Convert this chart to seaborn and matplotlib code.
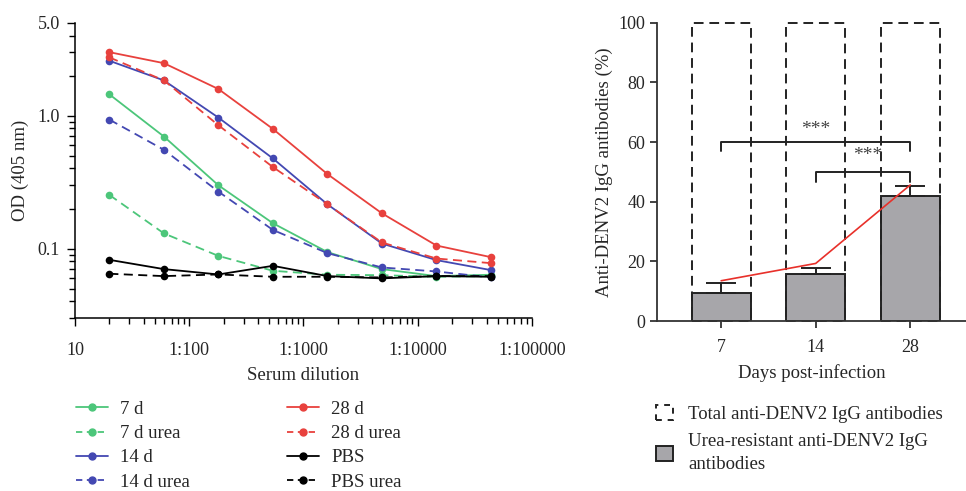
import numpy as np
import pandas as pd
import matplotlib
matplotlib.use("Agg")
import matplotlib.pyplot as plt
import matplotlib.ticker as mticker
from matplotlib.lines import Line2D
from matplotlib.patches import Patch
import seaborn as sns

# ---------------------------------------------------------------------------
# Data
# ---------------------------------------------------------------------------
dilution = [20, 60, 180, 540, 1620, 4860, 14580, 43740]

od_7d = [1.445, 0.696, 0.299, 0.155, 0.094, 0.070, 0.062, 0.0635]
od_7d_urea = [0.253, 0.130, 0.088, 0.068, 0.0635, 0.063, 0.0613, 0.062]
od_14d = [2.585, 1.84, 0.966, 0.476, 0.215, 0.109, 0.0818, 0.0688]
od_14d_urea = [0.933, 0.553, 0.268, 0.138, 0.0923, 0.072, 0.0672, 0.0606]
od_28d = [3.00, 2.48, 1.585, 0.794, 0.363, 0.184, 0.1053, 0.0861]
od_28d_urea = [2.74, 1.84, 0.846, 0.41, 0.215, 0.111, 0.0841, 0.0776]
od_pbs = [0.0822, 0.070, 0.0638, 0.0741, 0.062, 0.0596, 0.062, 0.0613]
od_pbs_urea = [0.0646, 0.062, 0.0638, 0.0613, 0.0613, 0.0606, 0.062, 0.062]

days = ["7", "14", "28"]
total_pct = [100, 100, 100]
urea_pct = [9.3, 15.8, 41.8]
urea_err = [3.6, 2.1, 3.4]
trend_pct = [13.5, 19.3, 45.6]

GREEN = "#4CC67A"
BLUE = "#4348B2"
RED = "#E8413D"
BLACK = "#000000"

series = [
    ("7 d", od_7d, GREEN, "-"),
    ("7 d urea", od_7d_urea, GREEN, "--"),
    ("14 d", od_14d, BLUE, "-"),
    ("14 d urea", od_14d_urea, BLUE, "--"),
    ("28 d", od_28d, RED, "-"),
    ("28 d urea", od_28d_urea, RED, "--"),
    ("PBS", od_pbs, BLACK, "-"),
    ("PBS urea", od_pbs_urea, BLACK, "--"),
]

FS = 13.5   # labels / legend
TFS = 13    # tick labels

sns.set_theme(style="ticks")
plt.rcParams["font.family"] = ["Liberation Serif", "DejaVu Serif"]
plt.rcParams["font.size"] = FS

fig = plt.figure(figsize=(9.66, 4.91), dpi=100)
ax1 = fig.add_axes([0.0776, 0.3523, 0.4731, 0.6015])
ax2 = fig.add_axes([0.680, 0.3462, 0.320, 0.6076])

# ---------------------------------------------------------------------------
# Left: OD titration curves
# ---------------------------------------------------------------------------
handles = []
for label, vals, color, ls in series:
    df = pd.DataFrame({"dilution": dilution, "od": vals})
    sns.lineplot(data=df, x="dilution", y="od", ax=ax1, color=color,
                 linewidth=1.3, marker="o", markersize=5.5,
                 markeredgewidth=0, clip_on=False)
    ax1.lines[-1].set_linestyle((0, (5, 3)) if ls == "--" else "-")
    handles.append(Line2D([], [], color=color, linewidth=1.3,
                          linestyle=(0, (3.5, 2.5)) if ls == "--" else "-",
                          marker="o", markersize=5, label=label))

ax1.set_xscale("log")
ax1.set_yscale("log")
ax1.set_xlim(10, 100000)
ax1.set_ylim(0.03, 5.0)
ax1.set_xticks([10, 100, 1000, 10000, 100000])
ax1.set_xticklabels(["10", "1:100", "1:1000", "1:10000", "1:100000"])
ax1.xaxis.set_minor_locator(mticker.LogLocator(base=10, subs=np.arange(2, 10)))
ax1.xaxis.set_minor_formatter(mticker.NullFormatter())
ax1.set_yticks([0.1, 1.0, 5.0])
ax1.set_yticklabels(["0.1", "1.0", "5.0"])
ax1.yaxis.set_minor_locator(mticker.LogLocator(base=10, subs=np.arange(2, 10)))
ax1.yaxis.set_minor_formatter(mticker.NullFormatter())
ax1.set_xlabel("Serum dilution", fontsize=FS, labelpad=6)
ax1.set_ylabel("OD (405 nm)", fontsize=FS, labelpad=6)
ax1.tick_params(which="major", length=6, width=1, color="black", labelsize=TFS)
ax1.tick_params(axis="x", which="major", pad=11)
ax1.tick_params(axis="y", which="major", pad=5)
ax1.tick_params(which="minor", length=4, width=1, color="black")
for s in ["left", "bottom"]:
    ax1.spines[s].set_linewidth(1.1)
    ax1.spines[s].set_color("black")
sns.despine(ax=ax1)

fig.legend(handles=handles, loc="upper left", bbox_to_anchor=(0.061, 0.218),
           ncol=2, frameon=False, fontsize=FS, handlelength=1.7,
           handletextpad=0.65, columnspacing=5.2, labelspacing=0.38)

# ---------------------------------------------------------------------------
# Right: avidity bars
# ---------------------------------------------------------------------------
sns.barplot(x=days, y=urea_pct, ax=ax2, color="#A7A6AA", width=0.625,
            edgecolor="#222222", linewidth=1.4, saturation=1)
n_gray = len(ax2.patches)
sns.barplot(x=days, y=total_pct, ax=ax2, color="white", width=0.625,
            saturation=1)
for p in ax2.patches[n_gray:]:
    p.set_facecolor("none")
    p.set_edgecolor("#222222")
    p.set_linewidth(1.4)
    p.set_linestyle((0, (5, 3)))
    p.set_clip_on(False)

xpos = np.arange(len(days))
ax2.errorbar(xpos, urea_pct, yerr=[[0] * 3, urea_err], fmt="none",
             ecolor="#222222", elinewidth=1.4, capsize=11, capthick=1.4)
ax2.plot(xpos, trend_pct, color="#E8302A", linewidth=1.2)

# significance brackets
ax2.plot([0, 0, 2, 2], [57, 60, 60, 57], color="#222222", linewidth=1.4)
ax2.text(1, 61.5, "***", ha="center", va="bottom", fontsize=14, color="#444444")
ax2.plot([1, 1, 2, 2], [46.5, 50, 50, 46.5], color="#222222", linewidth=1.4)
ax2.text(1.55, 52.5, "***", ha="center", va="bottom", fontsize=14,
         color="#444444")

ax2.set_xlim(-0.68, 2.59)
ax2.set_ylim(0, 100)
ax2.set_yticks([0, 20, 40, 60, 80, 100])
ax2.set_xlabel("Days post-infection", fontsize=FS, labelpad=6)
ax2.set_ylabel("Anti-DENV2 IgG antibodies (%)", fontsize=FS, labelpad=4)
ax2.tick_params(length=5, width=1.3, color="#333333", labelsize=TFS)
ax2.tick_params(axis="x", pad=8)
for s in ["left", "bottom"]:
    ax2.spines[s].set_linewidth(1.3)
    ax2.spines[s].set_color("#333333")
sns.despine(ax=ax2)

bar_handles = [
    Patch(facecolor="none", edgecolor="#222222", linestyle=(0, (3, 3)),
          linewidth=1.4, label="Total anti-DENV2 IgG antibodies"),
    Patch(facecolor="#A7A6AA", edgecolor="#222222", linewidth=1.4,
          label="Urea-resistant anti-DENV2 IgG\nantibodies"),
]
leg2 = fig.legend(handles=bar_handles, loc="upper left",
                  bbox_to_anchor=(0.662, 0.21), frameon=False, fontsize=FS,
                  handlelength=0.9, handleheight=0.9, handletextpad=0.8,
                  labelspacing=0.55)
for t in leg2.get_texts():
    t.set_linespacing(1.45)

fig.savefig("out.png", dpi=100)
